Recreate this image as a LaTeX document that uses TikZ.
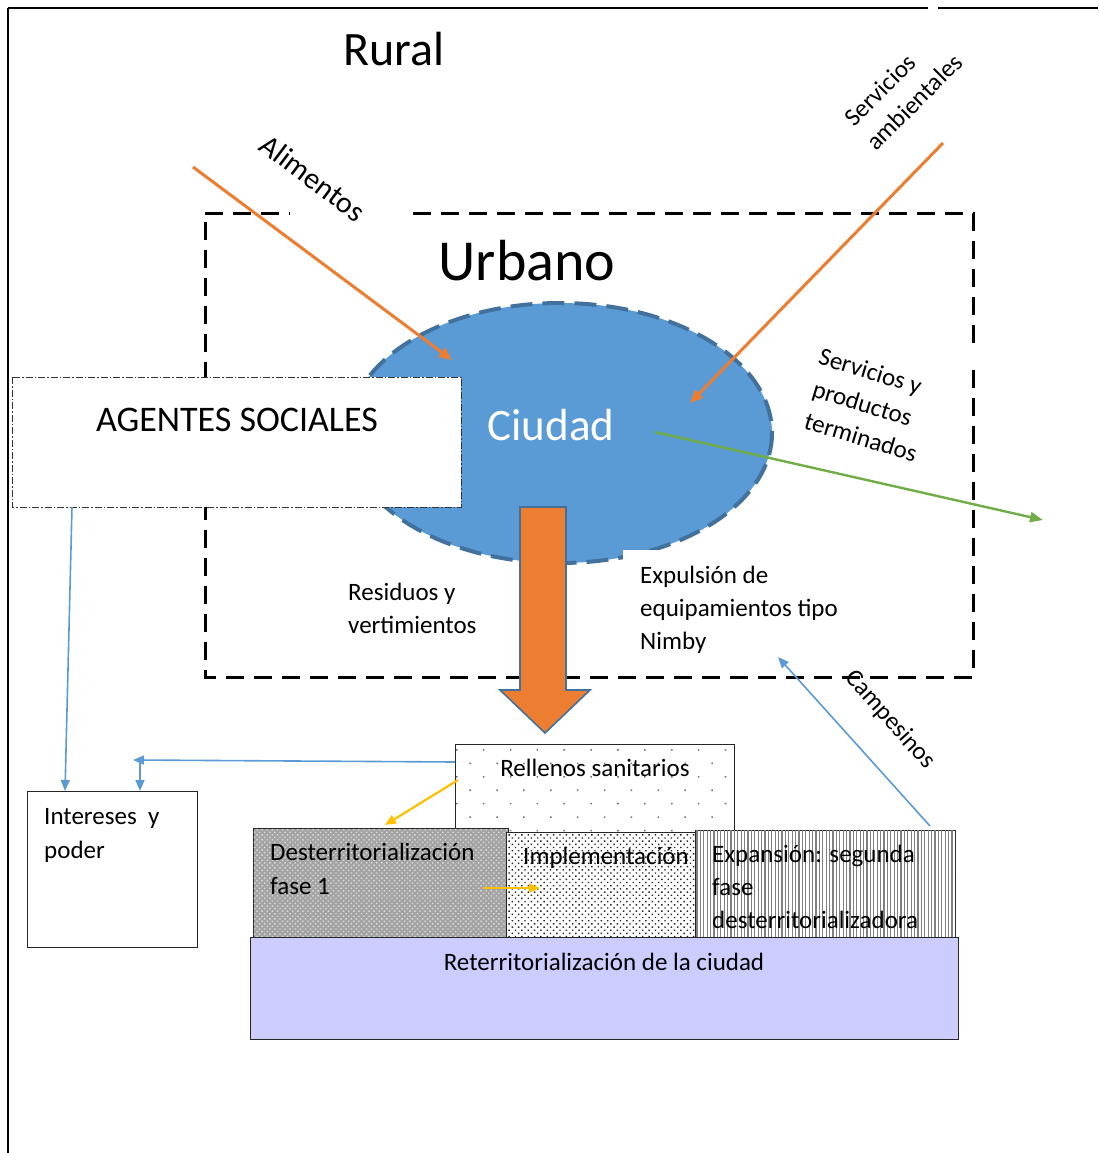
\documentclass[tikz,border=0pt]{standalone}
\usepackage{fontspec}
\setmainfont{Carlito}
\usetikzlibrary{arrows.meta,patterns.meta}
\definecolor{cOrange}{HTML}{ED7D31}
\definecolor{cBlue}{HTML}{5B9BD5}
\definecolor{cBlueDark}{HTML}{41719C}
\definecolor{cGreen}{HTML}{70AD47}
\definecolor{cGold}{HTML}{FFC000}
\definecolor{cLav}{HTML}{CCCCFF}
\tikzset{
  txt/.style={inner sep=0pt, font=\fontsize{25}{33}\selectfont},
  frameline/.style={line width=1.8pt, black},
  urbline/.style={line width=3pt, black, dash pattern=on 18pt off 10pt},
  orangeline/.style={line width=3pt, cOrange, -{Triangle[length=13pt,width=11pt]}},
  blueline/.style={line width=1.6pt, cBlue, -{Triangle[length=11pt,width=9pt]}},
  goldline/.style={line width=2.2pt, cGold, -{Triangle[length=11pt,width=9pt]}},
  boxline/.style={draw=black!85, line width=1pt},
}
\begin{document}
\begin{tikzpicture}[x=1pt,y=-1pt]
\useasboundingbox (0,0) rectangle (1098,1153);

% outer frame of the rural area
\draw[frameline] (8,8) -- (928,8);
\draw[frameline] (938,8) -- (1098,8);
\draw[frameline] (8,8) -- (8,1153);

\node[txt, font=\fontsize{48}{56}\selectfont, anchor=base] (rural) at (394,66) {Rural};

% urban area (dashed frame)
\draw[urbline] (205,213) -- (290,213);
\draw[urbline] (413,213) -- (973,213) -- (973,345);
\draw[urbline] (973,370) -- (973,677) -- (205,677) -- (205,213);

\node[txt, font=\fontsize{58}{66}\selectfont, anchor=base] (urbano) at (527,280) {Urbano};

% city
\draw[fill=cBlue, draw=cBlueDark, line width=4pt, dash pattern=on 22pt off 10pt]
  (560,433) ellipse [x radius=212, y radius=130];
\node[txt, font=\fontsize{45}{50}\selectfont, text=white, anchor=base] (ciudad) at (551,440) {Ciudad};

% label box for expulsion (white background)
\fill[white] (623,550) rectangle (860,664);
\node[txt, anchor=base west] (exp1) at (640,583) {Expulsión de};
\node[txt, anchor=base west] (exp2) at (640,616) {equipamientos tipo};
\node[txt, anchor=base west] (exp3) at (640,649) {Nimby};

\node[txt, anchor=base west] (res1) at (348,600) {Residuos y};
\node[txt, anchor=base west] (res2) at (348,633) {vertimientos};

% social agents
\draw[fill=white, draw=black!80, line width=1pt, dash pattern=on 7pt off 2pt on 1.5pt off 2pt]
  (12,377) rectangle (461,507);
\node[txt, font=\fontsize{36}{40}\selectfont, anchor=base] (agentes) at (237,431) {AGENTES SOCIALES};

% big flow arrow from the city
\draw[fill=cOrange, draw=cBlueDark, line width=1.6pt, line join=miter]
  (520,507) -- (566,507) -- (566,690) -- (590,690) -- (545,733) -- (500,690) -- (520,690) -- cycle;

% flows in and out of the city
\node[txt, font=\fontsize{30}{36}\selectfont, rotate=-37] (alim) at (313,178) {Alimentos};
\coordinate (alimS) at (193,167);
\coordinate (alimE) at (452,360);
\draw[orangeline] (alimS) -- (alimE);

\node[txt, rotate=45] (servamb1) at (880,90) {Servicios};
\node[txt, rotate=45] (servamb2) at (914,102) {ambientales};
\coordinate (samS) at (943,143);
\coordinate (samE) at (690,403);
\draw[orangeline] (samS) -- (samE);

\node[txt, rotate=-17] (sp1) at (870,373) {Servicios y};
\node[txt, rotate=-17] (sp2) at (862,405) {productos};
\node[txt, rotate=-17] (sp3) at (861,437) {terminados};
\coordinate (spS) at (655,432);
\coordinate (spE) at (1043,520);
\draw[line width=2.4pt, cGreen, -{Triangle[length=13pt,width=10pt]}] (spS) -- (spE);

% interests and power
\draw[boxline] (27,791) rectangle (197,947);
\node[txt, anchor=base west] (int1) at (44,824) {Intereses\ \ y};
\node[txt, anchor=base west] (int2) at (44,858) {poder};

% stacked territorial phases
\draw[boxline, fill=white, postaction={pattern={Dots[distance=19pt,radius=1.1pt,angle=45]}, pattern color=black!55}]
  (455,744) rectangle (734,835);
\node[txt, anchor=base] (rell) at (595,776) {Rellenos sanitarios};

\draw[boxline, fill=black!36, postaction={pattern={Dots[distance=3.6pt,radius=1pt,angle=45]}, pattern color=black!14}]
  (253,828) rectangle (508,937);
\node[txt, anchor=base west] (des1) at (270,860) {Desterritorialización};
\node[txt, anchor=base west] (des2) at (270,894) {fase 1};

\draw[boxline, fill=white, postaction={pattern={Dots[distance=4.5pt,radius=1pt,angle=45]}, pattern color=black!85}]
  (506,832) rectangle (695,937);
\node[txt, anchor=base] (impl) at (606,864) {Implementación};

\draw[boxline, fill=white, postaction={pattern={Lines[angle=90,distance=3.4pt,line width=1.2pt]}, pattern color=black!50}]
  (695,830) rectangle (955,937);
\node[txt, anchor=base west] (exn1) at (712,862) {Expansión: segunda};
\node[txt, anchor=base west] (exn2) at (712,895) {fase};
\node[txt, anchor=base west] (exn3) at (712,928) {desterritorializadora};

\draw[boxline, fill=cLav] (250,937) rectangle (958,1039);
\node[txt, anchor=base] (reterr) at (604,970) {Reterritorialización de la ciudad};

% connectors
\coordinate (agB) at (72,507);
\coordinate (intT1) at (65,791);
\draw[blueline] (agB) -- (intT1);

\coordinate (rellL) at (455,762);
\coordinate (leftEnd) at (133,760);
\draw[blueline] (rellL) -- (leftEnd);
\coordinate (vTop) at (140,762);
\coordinate (intT2) at (140,791);
\draw[blueline] (vTop) -- (intT2);

\coordinate (rellG) at (458,780);
\coordinate (desT) at (385,825);
\draw[goldline] (rellG) -- (desT);
\coordinate (desIn) at (483,888);
\coordinate (implIn) at (540,888);
\draw[goldline] (desIn) -- (implIn);

\node[txt, rotate=-48] (camp) at (890,720) {Campesinos};
\coordinate (expT) at (930,826);
\coordinate (nimby) at (778,657);
\draw[blueline] (expT) -- (nimby);
\end{tikzpicture}
\end{document}
